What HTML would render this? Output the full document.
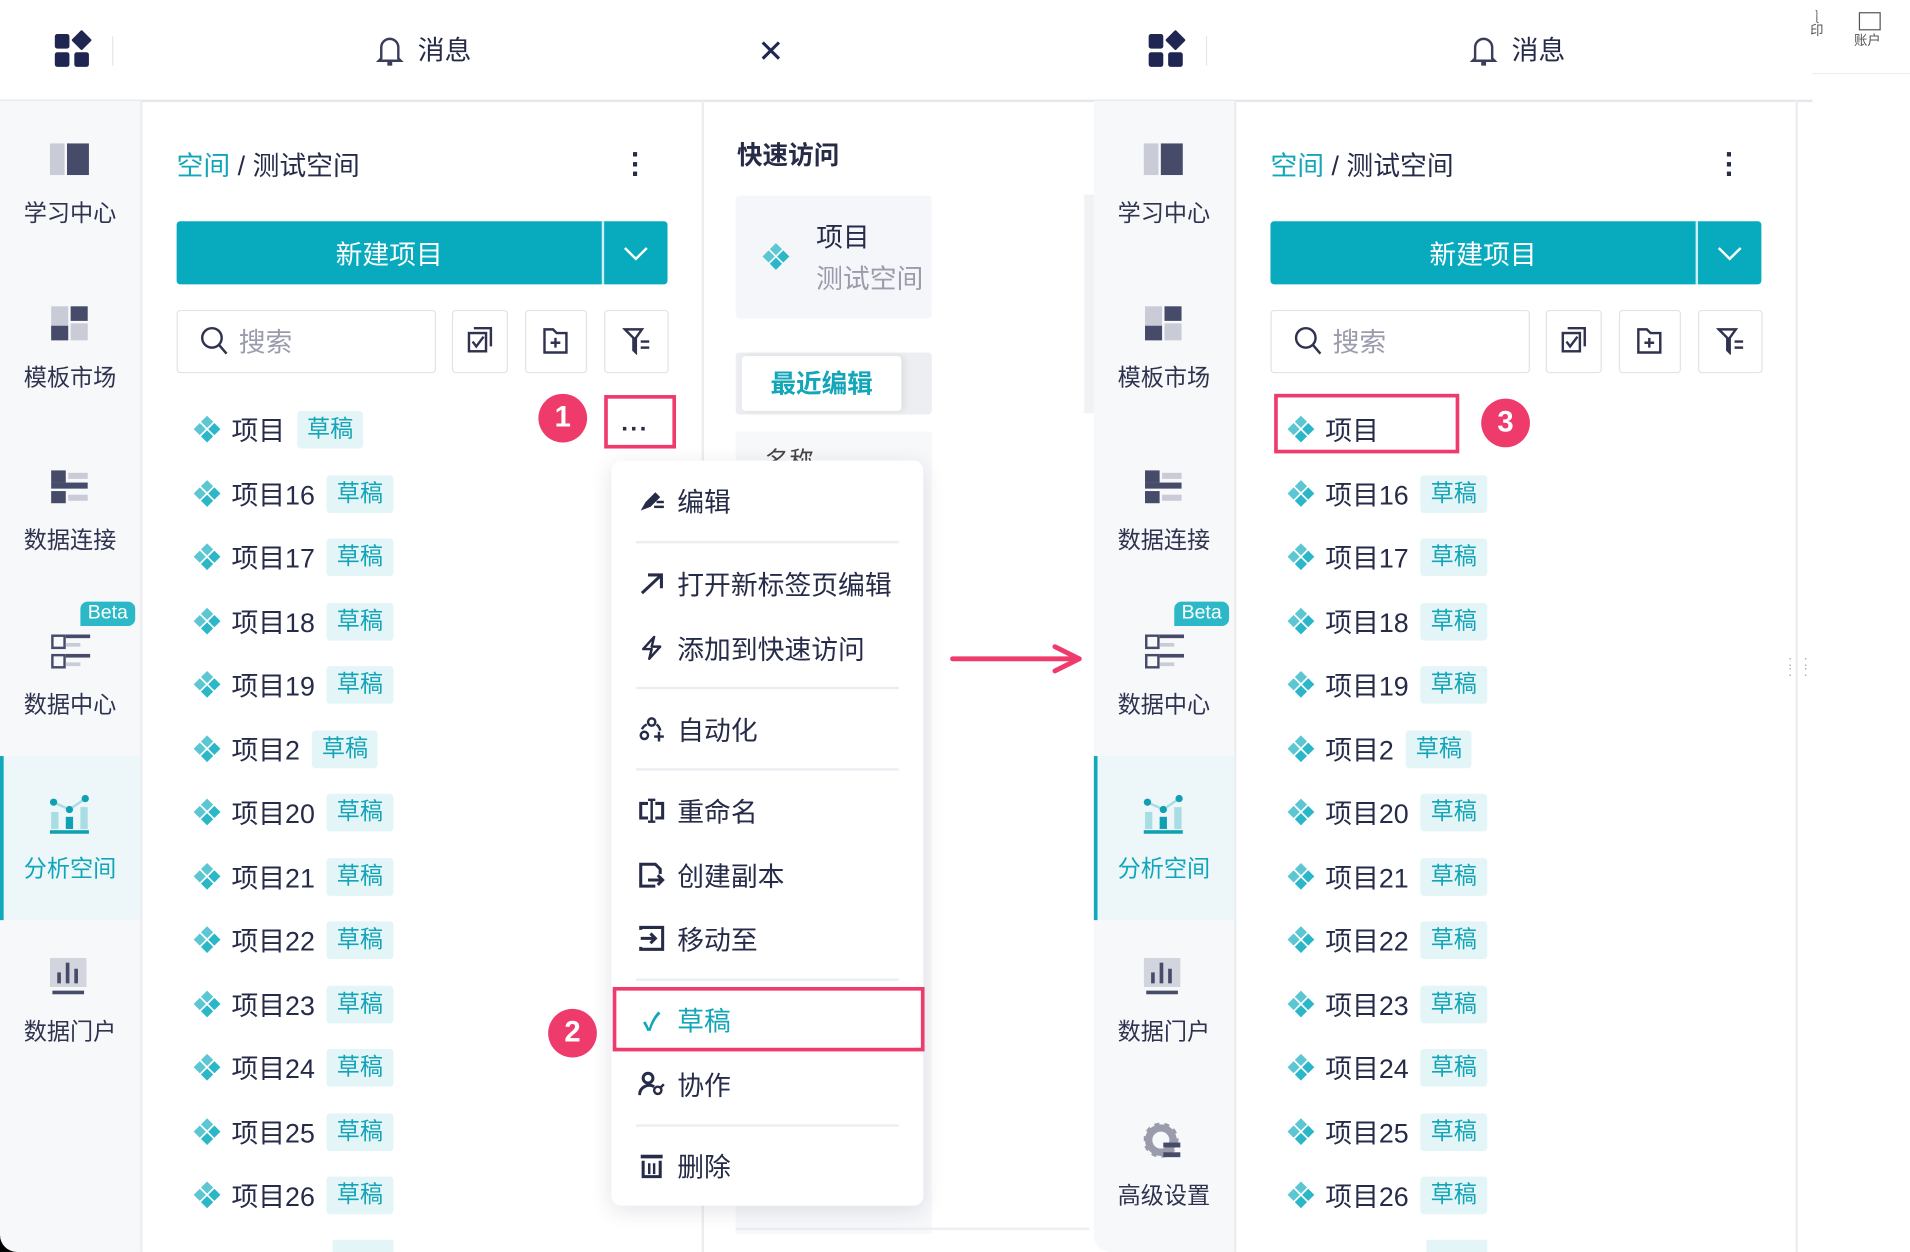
<!DOCTYPE html>
<html><head><meta charset="utf-8">
<style>
html,body{margin:0;padding:0;width:1910px;height:1252px;overflow:hidden;background:#fff;}
#w{position:absolute;left:0;top:0;width:1568px;height:1030px;transform:scale(1.2181,1.2155);transform-origin:0 0;font-family:"Liberation Sans","Noto Sans CJK SC",sans-serif;color:#262b48;background:#fff;}
.a{position:absolute;}
.t{position:absolute;white-space:nowrap;line-height:1;}
.sb{position:absolute;top:83px;width:115px;height:947px;background:#f7f8fa;}
.lbl{position:absolute;width:115px;text-align:center;font-size:19px;color:#2f334f;margin-top:-3px;}
.row{position:absolute;height:30px;display:flex;align-items:center;font-size:22px;color:#262b48;}
.row svg{margin-right:7px;}
.tag{margin-left:10px;background:#e4f5f7;color:#13a5b7;font-size:19px;padding:0 8px;height:31px;line-height:31px;border-radius:3px;}
.mi{position:absolute;left:22px;font-size:22px;display:flex;align-items:center;color:#262b48;margin-top:-3px;}
.mi .g{width:22px;margin-right:10px;font-size:20px;text-align:center;display:flex;justify-content:center;}
.sep{position:absolute;left:20px;width:216px;height:2px;background:#eceef2;}
.badge{position:absolute;width:40px;height:40px;border-radius:50%;background:#ef3a6c;color:#fff;font-size:24px;text-align:center;line-height:40px;font-weight:bold;}
.box{position:absolute;border:1.5px solid #e1e3e8;border-radius:3px;background:#fff;}
</style></head><body><div id="w">

<svg width="0" height="0" style="position:absolute"><defs>
<g id="dm"><polygon points="13,2 18,7 13,12 8,7" fill="#5cc6d2"/><polygon points="19,8 24,13 19,18 14,13" fill="#2bb7c8"/><polygon points="13,14 18,19 13,24 8,19" fill="#2bb7c8"/><polygon points="7,8 12,13 7,18 2,13" fill="#5cc6d2"/></g>
</defs></svg>

<!-- top bars -->
<div class="a" style="left:0;top:82px;width:1488px;height:2px;background:#e6e7eb"></div>
<div class="a" style="left:1488px;top:0;width:80px;height:60px;border-bottom:1px solid #eee;"></div>
<div class="t" style="left:1486px;top:10px;font-size:11px;color:#555">⎱<br>印</div>
<div class="a" style="left:1526px;top:10px;width:16px;height:13px;border:1px solid #555;"></div>
<div class="t" style="left:1522px;top:29px;font-size:11px;color:#555">账户</div>

<!-- logos -->
<div class="a" style="left:45px;top:28px;width:12px;height:12px;background:#1f2651;border-radius:2px"></div>
<div class="a" style="left:61px;top:27px;width:12px;height:12px;background:#1f2651;transform:rotate(45deg);border-radius:1px"></div>
<div class="a" style="left:45px;top:43px;width:12px;height:12px;background:#1f2651;border-radius:2px"></div>
<div class="a" style="left:61px;top:43px;width:12px;height:12px;background:#1f2651;border-radius:2px"></div>
<div class="a" style="left:92px;top:30px;width:1px;height:24px;background:#e5e6ea"></div>
<div class="a" style="left:943px;top:28px;width:12px;height:12px;background:#1f2651;border-radius:2px"></div>
<div class="a" style="left:959px;top:27px;width:12px;height:12px;background:#1f2651;transform:rotate(45deg);border-radius:1px"></div>
<div class="a" style="left:943px;top:43px;width:12px;height:12px;background:#1f2651;border-radius:2px"></div>
<div class="a" style="left:959px;top:43px;width:12px;height:12px;background:#1f2651;border-radius:2px"></div>
<div class="a" style="left:990px;top:30px;width:1px;height:24px;background:#e5e6ea"></div>

<svg class="a" style="left:308px;top:28px" width="24" height="28" viewBox="0 0 24 28"><path d="M5 20V11a7 7 0 0 1 14 0v9l2 2H3z" fill="none" stroke="#3a3e5a" stroke-width="2"/><rect x="10" y="23" width="4" height="3" fill="#3a3e5a"/></svg>
<div class="t" style="left:343px;top:31px;font-size:22px">消息</div>
<div class="t" style="left:622px;top:29px;font-size:26px;color:#1f2651">✕</div>
<svg class="a" style="left:1206px;top:28px" width="24" height="28" viewBox="0 0 24 28"><path d="M5 20V11a7 7 0 0 1 14 0v9l2 2H3z" fill="none" stroke="#3a3e5a" stroke-width="2"/><rect x="10" y="23" width="4" height="3" fill="#3a3e5a"/></svg>
<div class="t" style="left:1241px;top:31px;font-size:22px">消息</div>

<!-- sidebars -->
<div class="sb" style="left:0"></div>
<div class="a" style="left:115px;top:83px;width:2px;height:947px;background:#eceef2"></div>
<div class="a" style="left:0;top:622px;width:115px;height:135px;background:#edf6f9;border-left:3px solid #10a9bc;box-sizing:border-box"></div>
<div class="sb" style="left:898px;border-bottom-left-radius:14px"></div>
<div class="a" style="left:1013px;top:83px;width:2px;height:947px;background:#eceef2"></div>
<div class="a" style="left:898px;top:622px;width:115px;height:135px;background:#edf6f9;border-left:3px solid #10a9bc;box-sizing:border-box"></div>
<div class="a" style="left:890px;top:160px;width:8px;height:180px;background:#f1f2f5"></div>

<!-- sidebar left contents -->
<div class="a" style="left:41px;top:118px;width:12px;height:26px;background:#c9cbd6"></div><div class="a" style="left:55px;top:118px;width:18px;height:26px;background:#474b6a"></div>
<div class="lbl" style="left:0;top:164px">学习中心</div>
<div class="a" style="left:42px;top:252px;width:14px;height:28px;background:#c9cbd6"></div><div class="a" style="left:58px;top:252px;width:14px;height:12px;background:#474b6a"></div><div class="a" style="left:58px;top:266px;width:14px;height:14px;background:#c9cbd6"></div><div class="a" style="left:42px;top:268px;width:14px;height:12px;background:#474b6a"></div>
<div class="lbl" style="left:0;top:299px">模板市场</div>
<div class="a" style="left:42px;top:387px;width:12px;height:10px;background:#474b6a"></div><div class="a" style="left:56px;top:389px;width:16px;height:5px;background:#c9cbd6"></div><div class="a" style="left:42px;top:397px;width:30px;height:5px;background:#474b6a"></div><div class="a" style="left:42px;top:404px;width:12px;height:10px;background:#474b6a"></div><div class="a" style="left:56px;top:407px;width:16px;height:5px;background:#c9cbd6"></div>
<div class="lbl" style="left:0;top:433px">数据连接</div>
<div class="a" style="left:66px;top:495px;width:45px;height:20px;background:#2cb8c7;border-radius:6px 6px 6px 0;color:#fff;font-size:16px;text-align:center;line-height:20px">Beta</div>
<div class="a" style="left:42px;top:522px;width:8px;height:8px;border:2px solid #474b6a"></div><div class="a" style="left:54px;top:522px;width:20px;height:3px;background:#474b6a"></div><div class="a" style="left:54px;top:529px;width:12px;height:3px;background:#c9cbd6"></div>
<div class="a" style="left:42px;top:538px;width:8px;height:8px;border:2px solid #474b6a"></div><div class="a" style="left:54px;top:538px;width:20px;height:3px;background:#474b6a"></div><div class="a" style="left:54px;top:545px;width:12px;height:3px;background:#c9cbd6"></div>
<div class="lbl" style="left:0;top:568px">数据中心</div>
<svg class="a" style="left:40px;top:654px" width="34" height="32" viewBox="0 0 34 32"><rect x="2" y="14" width="6" height="14" fill="#a9dde4"/><rect x="14" y="18" width="6" height="10" fill="#10a0b3"/><rect x="26" y="10" width="6" height="18" fill="#a9dde4"/><polyline points="4,6 17,12 30,3" fill="none" stroke="#a9dde4" stroke-width="2"/><circle cx="4" cy="6" r="3" fill="#10a0b3"/><circle cx="17" cy="12" r="3" fill="#10a0b3"/><circle cx="30" cy="3" r="3" fill="#10a0b3"/><rect x="1" y="29" width="32" height="3" fill="#10a0b3"/></svg>
<div class="lbl" style="left:0;top:703px;color:#10a6b9">分析空间</div>
<svg class="a" style="left:41px;top:788px" width="32" height="32" viewBox="0 0 32 32"><rect x="0" y="0" width="30" height="24" fill="#d3d5de"/><rect x="6" y="12" width="3" height="9" fill="#474b6a"/><rect x="13" y="4" width="3" height="17" fill="#474b6a"/><rect x="20" y="9" width="3" height="12" fill="#474b6a"/><rect x="2" y="27" width="26" height="3" fill="#474b6a"/></svg>
<div class="lbl" style="left:0;top:837px">数据门户</div>

<!-- sidebar right contents -->
<div class="a" style="left:939px;top:118px;width:12px;height:26px;background:#c9cbd6"></div><div class="a" style="left:953px;top:118px;width:18px;height:26px;background:#474b6a"></div>
<div class="lbl" style="left:898px;top:164px">学习中心</div>
<div class="a" style="left:940px;top:252px;width:14px;height:28px;background:#c9cbd6"></div><div class="a" style="left:956px;top:252px;width:14px;height:12px;background:#474b6a"></div><div class="a" style="left:956px;top:266px;width:14px;height:14px;background:#c9cbd6"></div><div class="a" style="left:940px;top:268px;width:14px;height:12px;background:#474b6a"></div>
<div class="lbl" style="left:898px;top:299px">模板市场</div>
<div class="a" style="left:940px;top:387px;width:12px;height:10px;background:#474b6a"></div><div class="a" style="left:954px;top:389px;width:16px;height:5px;background:#c9cbd6"></div><div class="a" style="left:940px;top:397px;width:30px;height:5px;background:#474b6a"></div><div class="a" style="left:940px;top:404px;width:12px;height:10px;background:#474b6a"></div><div class="a" style="left:954px;top:407px;width:16px;height:5px;background:#c9cbd6"></div>
<div class="lbl" style="left:898px;top:433px">数据连接</div>
<div class="a" style="left:964px;top:495px;width:45px;height:20px;background:#2cb8c7;border-radius:6px 6px 6px 0;color:#fff;font-size:16px;text-align:center;line-height:20px">Beta</div>
<div class="a" style="left:940px;top:522px;width:8px;height:8px;border:2px solid #474b6a"></div><div class="a" style="left:952px;top:522px;width:20px;height:3px;background:#474b6a"></div><div class="a" style="left:952px;top:529px;width:12px;height:3px;background:#c9cbd6"></div>
<div class="a" style="left:940px;top:538px;width:8px;height:8px;border:2px solid #474b6a"></div><div class="a" style="left:952px;top:538px;width:20px;height:3px;background:#474b6a"></div><div class="a" style="left:952px;top:545px;width:12px;height:3px;background:#c9cbd6"></div>
<div class="lbl" style="left:898px;top:568px">数据中心</div>
<svg class="a" style="left:938px;top:654px" width="34" height="32" viewBox="0 0 34 32"><rect x="2" y="14" width="6" height="14" fill="#a9dde4"/><rect x="14" y="18" width="6" height="10" fill="#10a0b3"/><rect x="26" y="10" width="6" height="18" fill="#a9dde4"/><polyline points="4,6 17,12 30,3" fill="none" stroke="#a9dde4" stroke-width="2"/><circle cx="4" cy="6" r="3" fill="#10a0b3"/><circle cx="17" cy="12" r="3" fill="#10a0b3"/><circle cx="30" cy="3" r="3" fill="#10a0b3"/><rect x="1" y="29" width="32" height="3" fill="#10a0b3"/></svg>
<div class="lbl" style="left:898px;top:703px;color:#10a6b9">分析空间</div>
<svg class="a" style="left:939px;top:788px" width="32" height="32" viewBox="0 0 32 32"><rect x="0" y="0" width="30" height="24" fill="#d3d5de"/><rect x="6" y="12" width="3" height="9" fill="#474b6a"/><rect x="13" y="4" width="3" height="17" fill="#474b6a"/><rect x="20" y="9" width="3" height="12" fill="#474b6a"/><rect x="2" y="27" width="26" height="3" fill="#474b6a"/></svg>
<div class="lbl" style="left:898px;top:837px">数据门户</div>
<svg class="a" style="left:939px;top:923px" width="32" height="32" viewBox="0 0 32 32"><circle cx="14" cy="15" r="10" fill="none" stroke="#9a9cac" stroke-width="6"/><circle cx="14" cy="15" r="13" fill="none" stroke="#9a9cac" stroke-width="3" stroke-dasharray="4 4"/><rect x="16" y="17" width="14" height="4" fill="#474b6a"/><rect x="16" y="25" width="14" height="4" fill="#474b6a"/></svg>
<div class="lbl" style="left:898px;top:972px">高级设置</div>

<!-- borders -->
<div class="a" style="left:576px;top:83px;width:2px;height:947px;background:#eceef2"></div>
<div class="a" style="left:1474px;top:83px;width:2px;height:947px;background:#eceef2"></div>
<div class="t" style="left:1468px;top:540px;font-size:12px;color:#aaa;letter-spacing:3px;line-height:8px">: :<br>: :</div>

<!-- LEFT main -->
<div class="t" style="left:145px;top:126px;font-size:22px"><span style="color:#12a6b8">空间</span> / 测试空间</div>
<div class="t" style="left:518px;top:124px;font-size:24px;font-weight:bold;line-height:8px">·<br>·<br>·</div>
<div class="a" style="left:145px;top:182px;width:403px;height:52px;background:#08aabd;border-radius:3px"></div>
<div class="a" style="left:494px;top:182px;width:2px;height:52px;background:#fff;opacity:.8"></div>
<div class="t" style="left:145px;top:199px;width:349px;text-align:center;font-size:22px;color:#fff">新建项目</div>
<svg class="a" style="left:511px;top:202px" width="22" height="14"><polyline points="2,2 11,11 20,2" fill="none" stroke="#fff" stroke-width="2"/></svg>
<div class="box" style="left:145px;top:255px;width:211px;height:50px"></div>
<svg class="a" style="left:164px;top:268px" width="24" height="26"><circle cx="10" cy="10" r="8" fill="none" stroke="#2f334f" stroke-width="2"/><line x1="16" y1="16" x2="22" y2="23" stroke="#2f334f" stroke-width="2"/></svg>
<div class="t" style="left:196px;top:271px;font-size:22px;color:#9a9cac">搜索</div>
<div class="box" style="left:371px;top:255px;width:44px;height:50px"></div>
<div class="box" style="left:431px;top:255px;width:49px;height:50px"></div>
<div class="box" style="left:496px;top:255px;width:51px;height:50px"></div>
<svg class="a" style="left:383px;top:268px" width="22" height="24"><rect x="2" y="6" width="14" height="15" fill="none" stroke="#2f334f" stroke-width="2"/><polyline points="6,2 20,2 20,17" fill="none" stroke="#2f334f" stroke-width="2"/><polyline points="5,13 8,17 14,9" fill="none" stroke="#2f334f" stroke-width="2"/></svg>
<svg class="a" style="left:445px;top:268px" width="22" height="24"><path d="M2 3h7l3 3h8v16H2z" fill="none" stroke="#2f334f" stroke-width="2"/><line x1="11" y1="10" x2="11" y2="18" stroke="#2f334f" stroke-width="2"/><line x1="7" y1="14" x2="15" y2="14" stroke="#2f334f" stroke-width="2"/></svg>
<svg class="a" style="left:511px;top:268px" width="24" height="24"><path d="M2 3h14l-5 7v12l-2-2V10z" fill="none" stroke="#2f334f" stroke-width="2"/><rect x="15" y="12" width="7" height="2" fill="#2f334f"/><rect x="15" y="17" width="7" height="2" fill="#2f334f"/></svg>

<div class="row" style="left:157px;top:338px"><svg width="26" height="26" viewBox="0 0 26 26"><use href="#dm"/></svg>项目<span class="tag">草稿</span></div>
<div class="row" style="left:157px;top:391px"><svg width="26" height="26" viewBox="0 0 26 26"><use href="#dm"/></svg>项目16<span class="tag">草稿</span></div>
<div class="row" style="left:157px;top:443px"><svg width="26" height="26" viewBox="0 0 26 26"><use href="#dm"/></svg>项目17<span class="tag">草稿</span></div>
<div class="row" style="left:157px;top:496px"><svg width="26" height="26" viewBox="0 0 26 26"><use href="#dm"/></svg>项目18<span class="tag">草稿</span></div>
<div class="row" style="left:157px;top:548px"><svg width="26" height="26" viewBox="0 0 26 26"><use href="#dm"/></svg>项目19<span class="tag">草稿</span></div>
<div class="row" style="left:157px;top:601px"><svg width="26" height="26" viewBox="0 0 26 26"><use href="#dm"/></svg>项目2<span class="tag">草稿</span></div>
<div class="row" style="left:157px;top:653px"><svg width="26" height="26" viewBox="0 0 26 26"><use href="#dm"/></svg>项目20<span class="tag">草稿</span></div>
<div class="row" style="left:157px;top:706px"><svg width="26" height="26" viewBox="0 0 26 26"><use href="#dm"/></svg>项目21<span class="tag">草稿</span></div>
<div class="row" style="left:157px;top:758px"><svg width="26" height="26" viewBox="0 0 26 26"><use href="#dm"/></svg>项目22<span class="tag">草稿</span></div>
<div class="row" style="left:157px;top:811px"><svg width="26" height="26" viewBox="0 0 26 26"><use href="#dm"/></svg>项目23<span class="tag">草稿</span></div>
<div class="row" style="left:157px;top:863px"><svg width="26" height="26" viewBox="0 0 26 26"><use href="#dm"/></svg>项目24<span class="tag">草稿</span></div>
<div class="row" style="left:157px;top:916px"><svg width="26" height="26" viewBox="0 0 26 26"><use href="#dm"/></svg>项目25<span class="tag">草稿</span></div>
<div class="row" style="left:157px;top:968px"><svg width="26" height="26" viewBox="0 0 26 26"><use href="#dm"/></svg>项目26<span class="tag">草稿</span></div>
<div class="a" style="left:273px;top:1020px;width:50px;height:10px;background:#e4f5f7"></div>

<div class="badge" style="left:442px;top:324px">1</div>
<div class="a" style="left:496px;top:325px;width:59px;height:44px;border:3px solid #ef3a6c;box-sizing:border-box;background:#fff"></div>
<div class="t" style="left:510px;top:338px;font-size:20px;font-weight:bold;letter-spacing:2px">...</div>

<!-- MIDDLE panel -->
<div class="t" style="left:605px;top:118px;font-size:21px;font-weight:bold">快速访问</div>
<div class="a" style="left:604px;top:161px;width:161px;height:101px;background:#f5f6f9;border-radius:3px"></div>
<svg class="a" style="left:624px;top:198px" width="26" height="26" viewBox="0 0 26 26"><use href="#dm"/></svg>
<div class="t" style="left:670px;top:185px;font-size:22px">项目</div>
<div class="t" style="left:670px;top:219px;font-size:22px;color:#9a9cac">测试空间</div>
<div class="a" style="left:604px;top:290px;width:161px;height:51px;background:#eceef2;border-radius:3px"></div>
<div class="a" style="left:609px;top:293px;width:131px;height:45px;background:#fff;border-radius:3px;box-shadow:2px 0 6px rgba(0,0,0,.08)"></div>
<div class="t" style="left:609px;top:306px;width:131px;text-align:center;font-size:21px;font-weight:bold;color:#12a6b8">最近编辑</div>
<div class="a" style="left:604px;top:355px;width:161px;height:660px;background:#f7f8fa"></div>
<div class="t" style="left:628px;top:370px;font-size:20px;color:#444">名称</div>
<div class="a" style="left:604px;top:1010px;width:290px;height:2px;background:#eceef2"></div>

<!-- arrow -->
<svg class="a" style="left:778px;top:528px" width="115" height="28"><line x1="4" y1="14" x2="108" y2="14" stroke="#ef3a6c" stroke-width="4" stroke-linecap="round"/><polyline points="88,4 108,14 88,24" fill="none" stroke="#ef3a6c" stroke-width="4" stroke-linecap="round" stroke-linejoin="round"/></svg>

<!-- MENU -->
<div class="a" style="left:502px;top:379px;width:256px;height:613px;background:#fff;border-radius:8px;box-shadow:0 4px 18px rgba(30,40,70,.12)">
<div class="mi" style="top:20px"><span class="g"><svg width="22" height="20"><path d="M2 18l4-7 8-8 4 4-8 8z" fill="#262b48"/><rect x="13" y="14" width="8" height="2" fill="#262b48"/><rect x="15" y="10" width="6" height="2" fill="#262b48"/></svg></span>编辑</div>
<div class="sep" style="top:66px"></div>
<div class="mi" style="top:88px"><span class="g"><svg width="22" height="20"><line x1="3" y1="18" x2="19" y2="3" stroke="#262b48" stroke-width="2.5"/><polyline points="8,3 19,3 19,14" fill="none" stroke="#262b48" stroke-width="2.5"/></svg></span>打开新标签页编辑</div>
<div class="mi" style="top:141px"><span class="g"><svg width="22" height="22"><path d="M13 2L4 12h7l-2 8 9-10h-7z" fill="none" stroke="#262b48" stroke-width="2" stroke-linejoin="round"/></svg></span>添加到快速访问</div>
<div class="sep" style="top:186px"></div>
<div class="mi" style="top:208px"><span class="g"><svg width="22" height="22"><circle cx="11" cy="5" r="3" fill="none" stroke="#262b48" stroke-width="2"/><circle cx="5" cy="16" r="3" fill="none" stroke="#262b48" stroke-width="2"/><path d="M3 11a8 8 0 0 1 4-4M15 7a8 8 0 0 1 3 5" fill="none" stroke="#262b48" stroke-width="2"/><path d="M17 13v8M13 17h8" stroke="#262b48" stroke-width="2"/></svg></span>自动化</div>
<div class="sep" style="top:253px"></div>
<div class="mi" style="top:275px"><span class="g"><svg width="22" height="22"><path d="M8 5H2v12h6M14 5h6v12h-6" fill="none" stroke="#262b48" stroke-width="2.5"/><path d="M11 2v18M8 2h6M8 20h6" stroke="#262b48" stroke-width="2"/></svg></span>重命名</div>
<div class="mi" style="top:328px"><span class="g"><svg width="22" height="22"><path d="M14 20H2V2h12l4 4v4" fill="none" stroke="#262b48" stroke-width="2.5"/><path d="M8 15h12M16 11l4 4-4 4" fill="none" stroke="#262b48" stroke-width="2.5"/></svg></span>创建副本</div>
<div class="mi" style="top:380px"><span class="g"><svg width="22" height="22"><path d="M2 4V2h18v18H2v-2" fill="none" stroke="#262b48" stroke-width="2.5"/><path d="M2 11h12M10 7l4 4-4 4" fill="none" stroke="#262b48" stroke-width="2.5"/></svg></span>移动至</div>
<div class="sep" style="top:426px"></div>
<div class="mi" style="top:447px;color:#12a6b8"><span class="g" style="color:#12a6b8;font-weight:bold">✓</span>草稿</div>
<div class="mi" style="top:500px"><span class="g"><svg width="22" height="22"><circle cx="8" cy="6" r="4" fill="none" stroke="#262b48" stroke-width="2.5"/><path d="M1 20a8 8 0 0 1 12-7" fill="none" stroke="#262b48" stroke-width="2.5"/><circle cx="16" cy="16" r="3" fill="none" stroke="#262b48" stroke-width="2"/><path d="M18 14l3-3" stroke="#262b48" stroke-width="2"/></svg></span>协作</div>
<div class="sep" style="top:546px"></div>
<div class="mi" style="top:567px"><span class="g"><svg width="22" height="22"><rect x="2" y="2" width="18" height="3" fill="#262b48"/><path d="M4 7v13h14V7" fill="none" stroke="#262b48" stroke-width="2.5"/><path d="M9 9v9M13 9v9" stroke="#262b48" stroke-width="2"/></svg></span>删除</div>
</div>
<div class="a" style="left:503px;top:812px;width:256px;height:53px;border:3px solid #ef3a6c;box-sizing:border-box"></div>
<div class="badge" style="left:450px;top:830px">2</div>

<!-- RIGHT main -->
<div class="t" style="left:1043px;top:126px;font-size:22px"><span style="color:#12a6b8">空间</span> / 测试空间</div>
<div class="t" style="left:1416px;top:124px;font-size:24px;font-weight:bold;line-height:8px">·<br>·<br>·</div>
<div class="a" style="left:1043px;top:182px;width:403px;height:52px;background:#08aabd;border-radius:3px"></div>
<div class="a" style="left:1392px;top:182px;width:2px;height:52px;background:#fff;opacity:.8"></div>
<div class="t" style="left:1043px;top:199px;width:349px;text-align:center;font-size:22px;color:#fff">新建项目</div>
<svg class="a" style="left:1409px;top:202px" width="22" height="14"><polyline points="2,2 11,11 20,2" fill="none" stroke="#fff" stroke-width="2"/></svg>
<div class="box" style="left:1043px;top:255px;width:211px;height:50px"></div>
<svg class="a" style="left:1062px;top:268px" width="24" height="26"><circle cx="10" cy="10" r="8" fill="none" stroke="#2f334f" stroke-width="2"/><line x1="16" y1="16" x2="22" y2="23" stroke="#2f334f" stroke-width="2"/></svg>
<div class="t" style="left:1094px;top:271px;font-size:22px;color:#9a9cac">搜索</div>
<div class="box" style="left:1269px;top:255px;width:44px;height:50px"></div>
<div class="box" style="left:1329px;top:255px;width:49px;height:50px"></div>
<div class="box" style="left:1394px;top:255px;width:51px;height:50px"></div>
<svg class="a" style="left:1281px;top:268px" width="22" height="24"><rect x="2" y="6" width="14" height="15" fill="none" stroke="#2f334f" stroke-width="2"/><polyline points="6,2 20,2 20,17" fill="none" stroke="#2f334f" stroke-width="2"/><polyline points="5,13 8,17 14,9" fill="none" stroke="#2f334f" stroke-width="2"/></svg>
<svg class="a" style="left:1343px;top:268px" width="22" height="24"><path d="M2 3h7l3 3h8v16H2z" fill="none" stroke="#2f334f" stroke-width="2"/><line x1="11" y1="10" x2="11" y2="18" stroke="#2f334f" stroke-width="2"/><line x1="7" y1="14" x2="15" y2="14" stroke="#2f334f" stroke-width="2"/></svg>
<svg class="a" style="left:1409px;top:268px" width="24" height="24"><path d="M2 3h14l-5 7v12l-2-2V10z" fill="none" stroke="#2f334f" stroke-width="2"/><rect x="15" y="12" width="7" height="2" fill="#2f334f"/><rect x="15" y="17" width="7" height="2" fill="#2f334f"/></svg>

<div class="row" style="left:1055px;top:338px"><svg width="26" height="26" viewBox="0 0 26 26"><use href="#dm"/></svg>项目</div>
<div class="a" style="left:1046px;top:324px;width:152px;height:49px;border:3px solid #ef3a6c;box-sizing:border-box"></div>
<div class="badge" style="left:1216px;top:328px">3</div>
<div class="row" style="left:1055px;top:391px"><svg width="26" height="26" viewBox="0 0 26 26"><use href="#dm"/></svg>项目16<span class="tag">草稿</span></div>
<div class="row" style="left:1055px;top:443px"><svg width="26" height="26" viewBox="0 0 26 26"><use href="#dm"/></svg>项目17<span class="tag">草稿</span></div>
<div class="row" style="left:1055px;top:496px"><svg width="26" height="26" viewBox="0 0 26 26"><use href="#dm"/></svg>项目18<span class="tag">草稿</span></div>
<div class="row" style="left:1055px;top:548px"><svg width="26" height="26" viewBox="0 0 26 26"><use href="#dm"/></svg>项目19<span class="tag">草稿</span></div>
<div class="row" style="left:1055px;top:601px"><svg width="26" height="26" viewBox="0 0 26 26"><use href="#dm"/></svg>项目2<span class="tag">草稿</span></div>
<div class="row" style="left:1055px;top:653px"><svg width="26" height="26" viewBox="0 0 26 26"><use href="#dm"/></svg>项目20<span class="tag">草稿</span></div>
<div class="row" style="left:1055px;top:706px"><svg width="26" height="26" viewBox="0 0 26 26"><use href="#dm"/></svg>项目21<span class="tag">草稿</span></div>
<div class="row" style="left:1055px;top:758px"><svg width="26" height="26" viewBox="0 0 26 26"><use href="#dm"/></svg>项目22<span class="tag">草稿</span></div>
<div class="row" style="left:1055px;top:811px"><svg width="26" height="26" viewBox="0 0 26 26"><use href="#dm"/></svg>项目23<span class="tag">草稿</span></div>
<div class="row" style="left:1055px;top:863px"><svg width="26" height="26" viewBox="0 0 26 26"><use href="#dm"/></svg>项目24<span class="tag">草稿</span></div>
<div class="row" style="left:1055px;top:916px"><svg width="26" height="26" viewBox="0 0 26 26"><use href="#dm"/></svg>项目25<span class="tag">草稿</span></div>
<div class="row" style="left:1055px;top:968px"><svg width="26" height="26" viewBox="0 0 26 26"><use href="#dm"/></svg>项目26<span class="tag">草稿</span></div>
<div class="a" style="left:1171px;top:1020px;width:50px;height:10px;background:#e4f5f7"></div>

<!-- black corner -->
<div class="a" style="left:0;top:1014px;width:16px;height:16px;background:#000"></div>
<div class="a" style="left:0;top:1000px;width:30px;height:30px;background:#f7f8fa;border-bottom-left-radius:14px"></div>
</div></body></html>
